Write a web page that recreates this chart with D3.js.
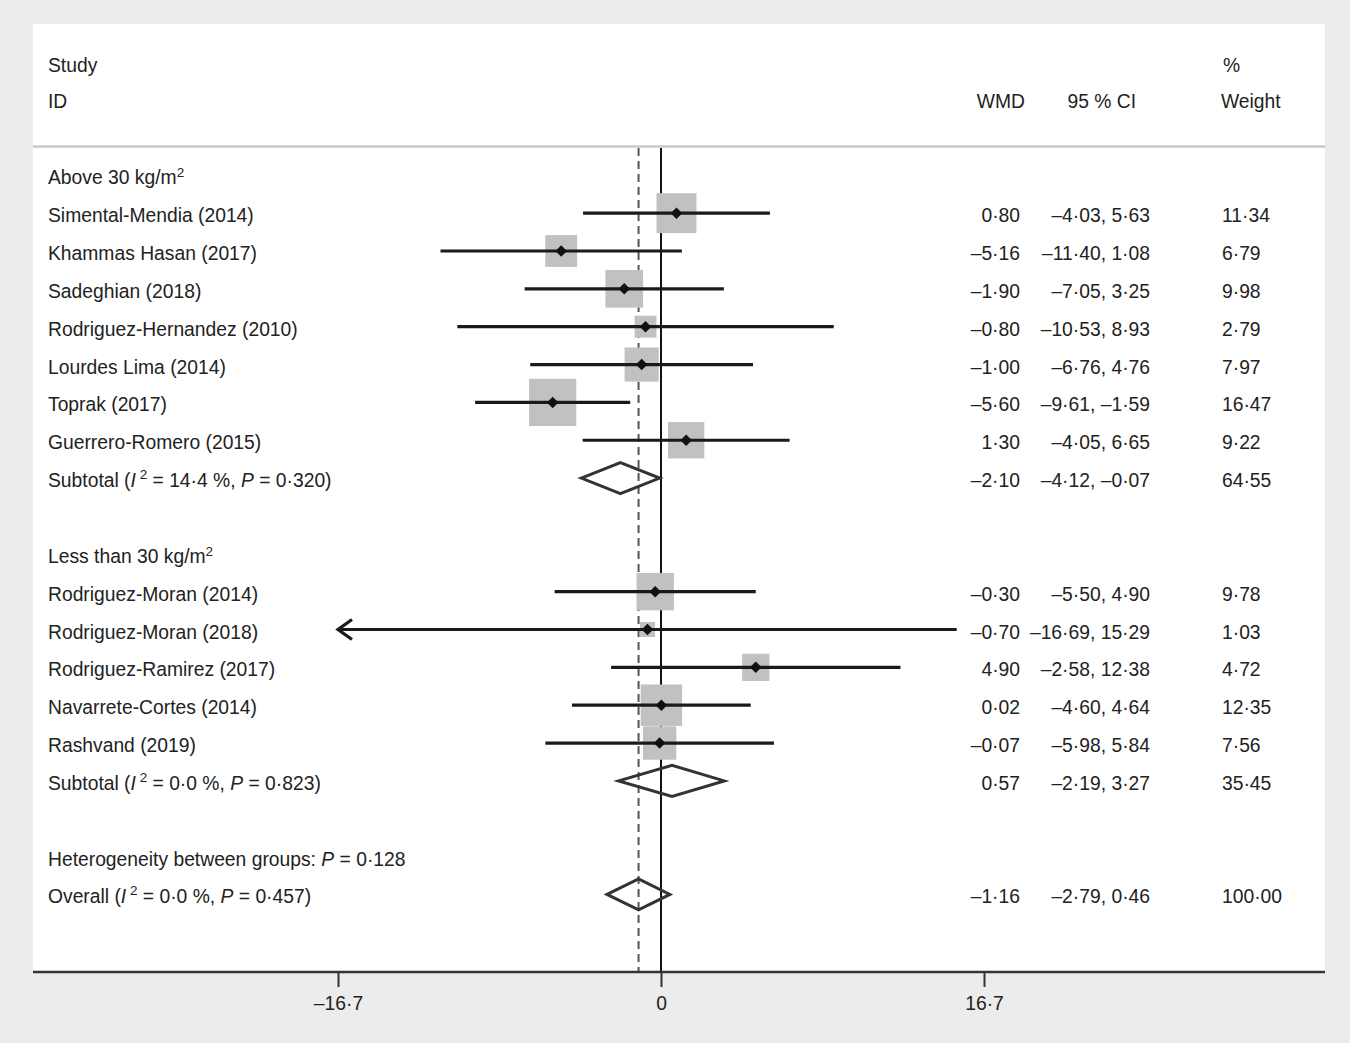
<!DOCTYPE html>
<html>
<head>
<meta charset="utf-8">
<script src="https://cdn.jsdelivr.net/npm/d3@7"></script>
<style>
  body { margin: 0; background: #ebeceb; }
  svg { display: block; font-family: "Liberation Sans", Arial, sans-serif; }
</style>
</head>
<body>
<svg id="chart" width="1350" height="1043"></svg>
<script>
// study level data (WMD, 95% CI, % weight)
const studyNames = [
  "Simental-Mendia (2014)", "Khammas Hasan (2017)", "Sadeghian (2018)",
  "Rodriguez-Hernandez (2010)", "Lourdes Lima (2014)", "Toprak (2017)",
  "Guerrero-Romero (2015)",
  "Rodriguez-Moran (2014)", "Rodriguez-Moran (2018)", "Rodriguez-Ramirez (2017)",
  "Navarrete-Cortes (2014)", "Rashvand (2019)"
];
const studyGroup = [0, 0, 0, 0, 0, 0, 0, 1, 1, 1, 1, 1];
const wmd    = [0.80, -5.16, -1.90, -0.80, -1.00, -5.60, 1.30, -0.30, -0.70, 4.90, 0.02, -0.07];
const ciLow  = [-4.03, -11.40, -7.05, -10.53, -6.76, -9.61, -4.05, -5.50, -16.69, -2.58, -4.60, -5.98];
const ciHigh = [5.63, 1.08, 3.25, 8.93, 4.76, -1.59, 6.65, 4.90, 15.29, 12.38, 4.64, 5.84];
const weight = [11.34, 6.79, 9.98, 2.79, 7.97, 16.47, 9.22, 9.78, 1.03, 4.72, 12.35, 7.56];

// subgroups
const groupLabels = ["Above 30 kg/m", "Less than 30 kg/m"];
const subWmd    = [-2.10, 0.57];
const subLow    = [-4.12, -2.19];
const subHigh   = [-0.07, 3.27];
const subWeight = [64.55, 35.45];
const subI2     = ["14·4", "0·0"];
const subP      = ["0·320", "0·823"];

// overall
const overallWmd = -1.16, overallLow = -2.79, overallHigh = 0.46, overallWeight = 100;
const overallI2 = "0·0", overallP = "0·457", betweenP = "0·128";

const xTicks = [-16.7, 0, 16.7];

const svg = d3.select("#chart");
const ink = "#222";
const FS = 19.3;

const locale = d3.formatLocale({decimal: "·", thousands: ",", grouping: [3], currency: ["", ""], minus: "–"});
const f2 = locale.format(".2f");
const f1 = locale.format(".1~f");

const panel = {left: 33, right: 1325, top: 24, bottom: 972};
const x = d3.scaleLinear().domain([-16.7, 16.7]).range([338, 984]);
const y = d3.scaleLinear().domain([0, 19]).range([175.3, 175.3 + 19 * 37.85]);
const boxSide = w => 4.2 + 10.6 * Math.sqrt(w);

// build rows
const rows = [];
let r = 0;
groupLabels.forEach((g, gi) => {
  rows.push({type: "group", row: r++, g: gi});
  studyNames.forEach((n, i) => {
    if (studyGroup[i] === gi) rows.push({type: "study", row: r++, i: i});
  });
  rows.push({type: "sub", row: r++, g: gi});
  r++;
});
rows.push({type: "between", row: 18});
rows.push({type: "overall", row: 19});

// panel
svg.append("rect")
  .attr("x", panel.left).attr("y", panel.top)
  .attr("width", panel.right - panel.left).attr("height", panel.bottom - panel.top)
  .attr("fill", "#fff");

svg.append("line")
  .attr("x1", panel.left).attr("x2", panel.right)
  .attr("y1", 146.5).attr("y2", 146.5)
  .attr("stroke", "#c9c9c9").attr("stroke-width", 2.5);

function label(sel, xPos, yPos, parts, anchor) {
  const t = sel.append("text")
    .attr("x", xPos).attr("y", yPos)
    .attr("font-size", FS).attr("fill", ink)
    .attr("text-anchor", anchor || "start");
  parts.forEach(p => {
    if (typeof p === "string") { t.append("tspan").text(p); return; }
    const s = t.append("tspan").text(p.t);
    if (p.it) s.attr("font-style", "italic");
    if (p.sup) s.attr("font-size", 13.5).attr("dy", p.dy || -7);
    if (p.down) s.attr("dy", p.down);
  });
  return t;
}

// headers
label(svg, 48, 71.7, ["Study"]);
label(svg, 48, 108.3, ["ID"]);
label(svg, 1025, 108.3, ["WMD"], "end");
label(svg, 1136, 108.3, ["95 % CI"], "end");
label(svg, 1223, 71.7, ["%"]);
label(svg, 1221, 108.3, ["Weight"]);

// reference lines
svg.append("line")
  .attr("x1", x(overallWmd)).attr("x2", x(overallWmd))
  .attr("y1", 148).attr("y2", panel.bottom)
  .attr("stroke", "#555").attr("stroke-width", 2)
  .attr("stroke-dasharray", "8,5");

svg.append("line")
  .attr("x1", x(0)).attr("x2", x(0))
  .attr("y1", 148).attr("y2", panel.bottom)
  .attr("stroke", "#111").attr("stroke-width", 2);

const TY = 9;
const subLabel = (prefix, i2, p) => [prefix + " (", {t: "I", it: true}, {t: " 2", sup: true, dy: -8},
  {t: " = " + i2 + " %, ", down: 8}, {t: "P", it: true}, " = " + p + ")"];

function diamond(mid, lo, hi, yc) {
  const h = 15.5;
  svg.append("path")
    .attr("d", `M${x(lo)},${yc} L${x(mid)},${yc - h} L${x(hi)},${yc} L${x(mid)},${yc + h} Z`)
    .attr("fill", "none").attr("stroke", "#333").attr("stroke-width", 3)
    .attr("stroke-linejoin", "miter");
}

function numbers(yc, m, lo, hi, w) {
  label(svg, 1020, yc + TY, [f2(m)], "end");
  label(svg, 1150, yc + TY, [f2(lo) + ", " + f2(hi)], "end");
  label(svg, 1222, yc + TY, [f2(w)]);
}

const [xMin, xMax] = x.domain();

rows.forEach(d => {
  const yc = y(d.row);
  if (d.type === "group") {
    label(svg, 48, yc + TY, [groupLabels[d.g], {t: "2", sup: true, dy: -7}]);
  } else if (d.type === "study") {
    const i = d.i;
    const s = boxSide(weight[i]);
    svg.append("rect")
      .attr("x", x(wmd[i]) - s / 2).attr("y", yc - s / 2)
      .attr("width", s).attr("height", s)
      .attr("fill", "#c0c1c3");
    const lo = Math.max(ciLow[i], xMin), hi = Math.min(ciHigh[i], xMax);
    svg.append("line")
      .attr("x1", x(lo)).attr("x2", x(hi))
      .attr("y1", yc).attr("y2", yc)
      .attr("stroke", "#1a1a1a").attr("stroke-width", 3.2);
    if (ciLow[i] <= xMin + 0.05) {
      const tip = x(xMin);
      svg.append("path")
        .attr("d", `M${tip + 14},${yc - 10} L${tip},${yc} L${tip + 14},${yc + 10}`)
        .attr("fill", "none").attr("stroke", "#1a1a1a").attr("stroke-width", 3.2);
    }
    svg.append("path")
      .attr("d", d3.symbol(d3.symbolDiamond2, 85)())
      .attr("transform", `translate(${x(wmd[i])},${yc})`)
      .attr("fill", "#111");
    label(svg, 48, yc + TY, [studyNames[i]]);
    numbers(yc, wmd[i], ciLow[i], ciHigh[i], weight[i]);
  } else if (d.type === "sub") {
    const g = d.g;
    diamond(subWmd[g], subLow[g], subHigh[g], yc);
    label(svg, 48, yc + TY, subLabel("Subtotal", subI2[g], subP[g]));
    numbers(yc, subWmd[g], subLow[g], subHigh[g], subWeight[g]);
  } else if (d.type === "between") {
    label(svg, 48, yc + TY, ["Heterogeneity between groups: ", {t: "P", it: true}, " = " + betweenP]);
  } else {
    diamond(overallWmd, overallLow, overallHigh, yc);
    label(svg, 48, yc + TY, subLabel("Overall", overallI2, overallP));
    numbers(yc, overallWmd, overallLow, overallHigh, overallWeight);
  }
});

// x axis
svg.append("line")
  .attr("x1", panel.left).attr("x2", panel.right)
  .attr("y1", panel.bottom).attr("y2", panel.bottom)
  .attr("stroke", "#333").attr("stroke-width", 2.5);

const axis = svg.append("g")
  .attr("transform", `translate(0,${panel.bottom})`)
  .call(d3.axisBottom(x).tickValues(xTicks).tickSize(15).tickPadding(9).tickFormat(f1));
axis.select(".domain").remove();
axis.selectAll(".tick line").attr("stroke", "#333").attr("stroke-width", 2);
axis.selectAll(".tick text")
  .attr("font-size", FS).attr("fill", ink)
  .attr("font-family", "Liberation Sans, Arial, sans-serif");
</script>
</body>
</html>
